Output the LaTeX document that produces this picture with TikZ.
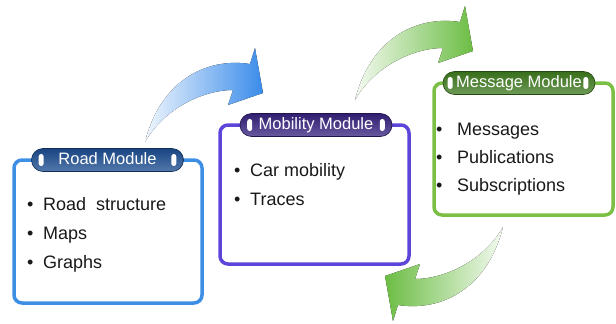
\documentclass[tikz,border=0pt]{standalone}
\usepackage{fontspec}
\setmainfont{Liberation Sans}
\usetikzlibrary{positioning}

\definecolor{roadblue}{HTML}{3D8FE6}
\definecolor{roaddark}{HTML}{1B4C90}
\definecolor{mobpurple}{HTML}{5E44D8}
\definecolor{mobdark}{HTML}{36217E}
\definecolor{msggreen}{HTML}{7BC045}
\definecolor{msgdark}{HTML}{3E7A1E}
\definecolor{arrblue}{HTML}{3A8CEA}
\definecolor{arrgreen}{HTML}{6CBD44}

\newcommand\itemfont{\fontsize{18}{22}\selectfont}
\newcommand\titlefont{\fontsize{16.5}{20}\selectfont}
\newcommand\bul[1][16pt]{\makebox[#1][l]{\textbullet}}

\tikzset{
  frame/.style={draw=#1, line width=3.5pt, rounded corners=8pt, fill=white},
  pill/.style={rounded corners=11.5pt, minimum width=152pt, minimum height=23pt,
    inner sep=0pt, text=white, font=\titlefont, text height=12pt, text depth=3pt,
    top color=#1!90!black, middle color=#1, bottom color=#1!75!white,
    draw=#1!60!black, line width=0.6pt},
  item/.style={anchor=base west, inner sep=0pt, font=\itemfont, text=black!90},
  capsule/.style={fill=white, rounded corners=2.5pt},
  swoop/.pic={
    \fill[pic actions] (0,0) .. controls (15,-60) and (60,-85) .. (105,-78)
      -- (110,-94) -- (118,-49) -- (83,-37) -- (88,-52)
      .. controls (60,-52) and (20,-35) .. (0,0) -- cycle;
  }
}

\begin{document}
\begin{tikzpicture}[x=1pt,y=-1pt]
  \useasboundingbox (0,0) rectangle (616,324);

  % curved arrows between the modules
  \pic[left color=arrblue!8, right color=arrblue] at (145,142) {swoop};
  \pic[left color=arrgreen!8, right color=arrgreen] at (355,100) {swoop};
  \pic[rotate=180, left color=arrgreen, right color=arrgreen!8] at (503,227) {swoop};

  % road module
  \draw[frame=roadblue] (14,160) rectangle (202,303);
  \node[pill=roaddark] (rt) at (107.5,160) {Road Module};
  \fill[capsule] ([shift={(7.5pt,-6pt)}]rt.west) rectangle ++(5pt,12pt);
  \fill[capsule] ([shift={(-12.5pt,-6pt)}]rt.east) rectangle ++(5pt,12pt);
  \node[item] (r1) at (27,210) {\bul Road~ structure};
  \node[item] (r2) at (27,239) {\bul Maps};
  \node[item] (r3) at (27,268) {\bul Graphs};

  % mobility module
  \draw[frame=mobpurple] (220,125) rectangle (409,264);
  \node[pill=mobdark] (mt) at (316,125) {Mobility Module};
  \fill[capsule] ([shift={(7.5pt,-6pt)}]mt.west) rectangle ++(5pt,12pt);
  \fill[capsule] ([shift={(-12.5pt,-6pt)}]mt.east) rectangle ++(5pt,12pt);
  \node[item] (m1) at (234,176.5) {\bul Car mobility};
  \node[item] (m2) at (234,205) {\bul Traces};

  % message module
  \draw[frame=msggreen] (434,83) rectangle (613,215);
  \node[pill=msgdark] (gt) at (519,83) {Message Module};
  \fill[capsule] ([shift={(5pt,-6pt)}]gt.west) rectangle ++(5pt,12pt);
  \fill[capsule] ([shift={(-12pt,-6pt)}]gt.east) rectangle ++(5pt,12pt);
  \node[item] (g1) at (436,135) {\bul[21pt]Messages};
  \node[item] (g2) at (436,163) {\bul[21pt]Publications};
  \node[item] (g3) at (436,191) {\bul[21pt]Subscriptions};
\end{tikzpicture}
\end{document}
